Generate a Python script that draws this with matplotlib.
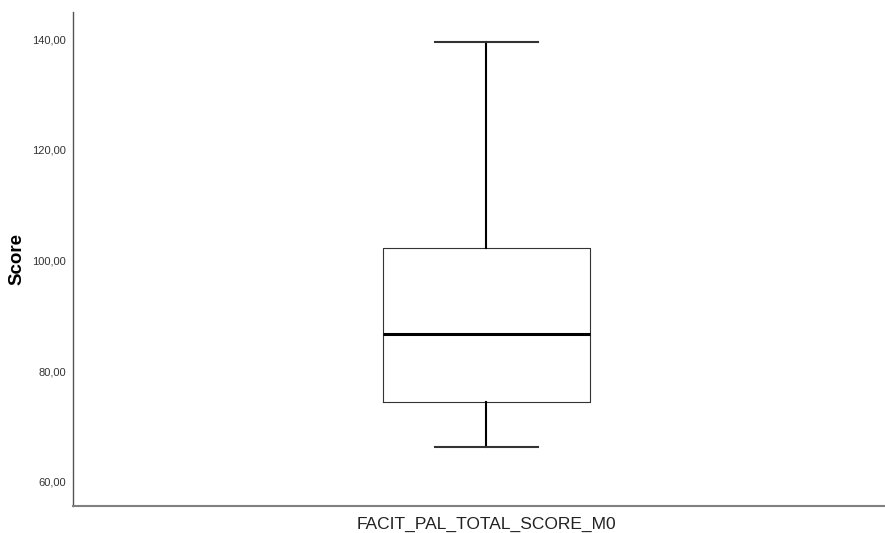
import matplotlib
matplotlib.use("Agg")
import matplotlib.pyplot as plt
from matplotlib.ticker import FuncFormatter

plt.rcParams['font.family'] = ['Liberation Sans', 'DejaVu Sans']

# box plot summary
variable = "FACIT_PAL_TOTAL_SCORE_M0"
whisker_low = 66.3
q1 = 74.4
median = 86.7
q3 = 102.3
whisker_high = 139.5
y_ticks = [60, 80, 100, 120, 140]

stats = [{
    'label': variable,
    'whislo': whisker_low, 'q1': q1, 'med': median,
    'q3': q3, 'whishi': whisker_high, 'fliers': [],
}]

fig = plt.figure(figsize=(8.85, 5.33), dpi=100)
ax = fig.add_axes([73 / 885, 27 / 533, 812 / 885, 493.5 / 533])

ax.bxp(stats, positions=[0.509], widths=0.255, capwidths=0.127,
       showfliers=False,
       boxprops=dict(color='#333333', linewidth=0.8),
       whiskerprops=dict(color='black', linewidth=1.5),
       capprops=dict(color='#333333', linewidth=1.5),
       medianprops=dict(color='black', linewidth=2.2))

ax.set_xlim(0, 1)
ax.set_ylim(55.66, 144.8)
ax.set_yticks(y_ticks)
ax.yaxis.set_major_formatter(FuncFormatter(lambda v, p: f"{v:.2f}".replace('.', ',')))
ax.tick_params(axis='y', length=0, pad=5, labelsize=8, labelcolor='#333333')
ax.tick_params(axis='x', length=0, pad=8, labelsize=12.5, labelcolor='#222222')
ax.set_ylabel("Score", fontsize=13.5, fontweight='bold', labelpad=5)

for side in ['top', 'right']:
    ax.spines[side].set_visible(False)
ax.spines['left'].set_color('#555555')
ax.spines['left'].set_linewidth(1.0)
ax.spines['bottom'].set_color('#808080')
ax.spines['bottom'].set_linewidth(1.5)

fig.savefig("out.png", dpi=100)
